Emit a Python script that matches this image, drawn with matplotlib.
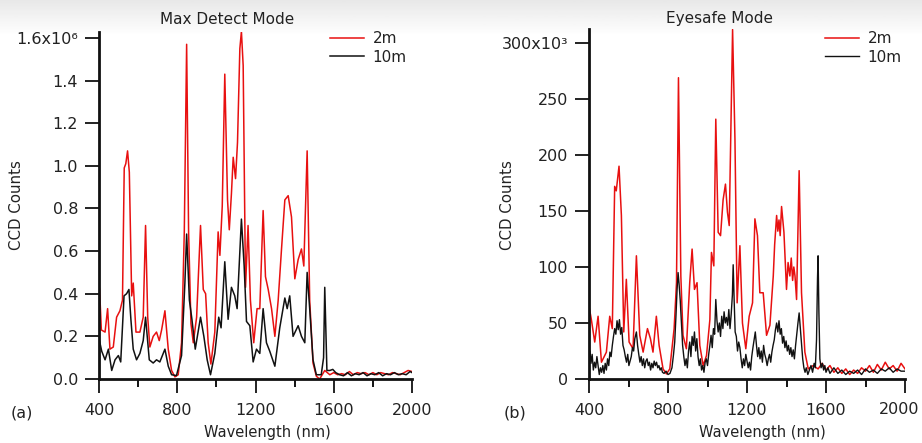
import numpy as np
import matplotlib
matplotlib.use("Agg")
import matplotlib.pyplot as plt
from matplotlib.ticker import MultipleLocator

plt.rcParams['font.family'] = ['DejaVu Sans']

# ---- Max Detect Mode (counts in units of 1e6) ----
max_wl_2m = [400, 403, 412, 431, 444, 456, 473, 490, 507, 520, 529, 537, 546, 555, 567, 575,
             589, 609, 626, 638, 649, 660, 677, 694, 708, 720, 737, 754, 771, 788, 805, 822,
             836, 848, 858, 870, 882, 899, 919, 933, 945, 958, 972, 992, 1009, 1018, 1030, 1043,
             1057, 1066, 1077, 1086, 1098, 1108, 1120, 1128, 1137, 1149, 1162, 1174, 1191, 1208,
             1222, 1239, 1251, 1265, 1282, 1299, 1316, 1333, 1350, 1367, 1384, 1401, 1418, 1435,
             1447, 1464, 1477, 1494, 1511, 1528, 1554, 1580, 1600, 1620, 1640, 1660, 1680, 1700,
             1720, 1740, 1760, 1780, 1800, 1820, 1840, 1860, 1880, 1900, 1920, 1940, 1960, 1980, 2000]
max_ct_2m = [.44, .42, .23, .22, .33, .14, .15, .29, .32, .37, .99, 1.01, 1.07, .97, .39, .45,
             .22, .22, .29, .72, .29, .15, .20, .22, .18, .23, .32, .14, .04, .01, .02, .17,
             .69, 1.57, .69, .26, .17, .29, .72, .42, .40, .17, .07, .22, .69, .58, .81, 1.43,
             .84, .70, .87, 1.04, .94, 1.11, 1.55, 1.63, 1.47, .43, .72, .37, .17, .33,
             .33, .79, .48, .42, .33, .20, .37, .61, .84, .86, .76, .47, .56, .61,
             .53, 1.07, .37, .075, .013, .0, .04, .02, .03, .02, .025, .02, .035, .02,
             .03, .025, .03, .02, .03, .02, .03, .025, .02, .03, .025, .02, .03, .04, .035]

max_wl_10m = [400, 414, 431, 448, 465, 482, 499, 511, 528, 541, 553, 563, 575, 592, 609, 626,
              638, 657, 677, 694, 711, 737, 754, 771, 796, 822, 839, 848, 862, 875, 892, 919,
              936, 953, 970, 992, 1012, 1024, 1043, 1060, 1077, 1094, 1106, 1128, 1142, 1154,
              1171, 1188, 1205, 1222, 1239, 1256, 1273, 1299, 1324, 1350, 1362, 1375, 1392, 1418,
              1435, 1452, 1464, 1477, 1494, 1511, 1536, 1548, 1554, 1565, 1580, 1595, 1610, 1630,
              1650, 1670, 1690, 1710, 1730, 1750, 1770, 1790, 1810, 1830, 1850, 1870, 1890, 1910,
              1930, 1950, 1970, 1990, 2000]
max_ct_10m = [.19, .13, .09, .14, .04, .09, .11, .08, .39, .40, .42, .28, .14, .09, .12, .18,
              .29, .09, .075, .09, .08, .14, .06, .02, .016, .11, .45, .68, .37, .28, .14, .29,
              .20, .09, .02, .12, .29, .24, .55, .28, .43, .39, .33, .75, .53, .27,
              .25, .08, .14, .12, .33, .17, .13, .06, .24, .38, .33, .39, .20, .25,
              .20, .17, .50, .33, .09, .02, .02, .10, .43, .04, .04, .045, .03, .02,
              .015, .03, .015, .025, .02, .03, .015, .025, .02, .03, .015, .025, .02, .03,
              .02, .025, .02, .035, .03]

# ---- Eyesafe Mode (counts in units of 1e3) ----
eye_wl_2m = [400, 412, 429, 446, 463, 488, 505, 518, 530, 538, 552, 564, 576, 589, 603, 623,
             640, 657, 674, 696, 711, 724, 741, 755, 775, 792, 809, 831, 843, 853, 865, 876,
             893, 910, 922, 934, 947, 961, 978, 995, 1012, 1020, 1032, 1042, 1054, 1066, 1079,
             1091, 1101, 1110, 1127, 1139, 1150, 1164, 1177, 1194, 1211, 1228, 1240, 1253, 1265,
             1282, 1299, 1316, 1333, 1340, 1350, 1356, 1362, 1368, 1375, 1387, 1400, 1408, 1417,
             1424, 1431, 1437, 1443, 1451, 1464,
             1476, 1493, 1510, 1535, 1560, 1580, 1600, 1620, 1640, 1660, 1680, 1700, 1720, 1740,
             1760, 1780, 1800, 1820, 1840, 1860, 1880, 1900, 1920, 1940, 1960, 1980, 2000]
eye_ct_2m = [65, 53, 33, 56, 15, 24, 56, 45, 172, 168, 190, 146, 42, 89, 33, 27,
             110, 39, 24, 45, 36, 24, 56, 30, 9, 4.5, 9, 45, 86, 269, 92, 39,
             27, 86, 116, 80, 86, 30, 12, 21, 53, 113, 101, 232, 131, 128, 160,
             174, 149, 137, 312, 214, 68, 119, 50, 27, 56, 68, 143, 128, 77,
             77, 39, 48, 92, 120, 146, 132, 142, 128, 154, 131, 80, 104, 92,
             108, 88, 100, 92, 71, 186,
             77, 24, 9, 12, 9, 14, 8, 12, 6, 10, 5, 9, 4, 8,
             5, 10, 7, 12, 6, 13, 8, 15, 9, 12, 7, 14, 9]

eye_wl_10m = [400, 405, 410, 416, 422, 428, 434, 440, 446, 452, 458, 464, 470, 476, 482, 488,
              494, 500, 506, 512, 518, 524, 530, 536, 542, 548, 554, 560, 566, 572, 578, 584,
              590, 596, 602, 608, 614, 620, 626, 632, 640, 646, 652, 658, 664, 670, 676, 682,
              688, 694, 700, 706, 712, 718, 724, 730, 736, 742, 748, 754, 760, 766, 772, 780,
              790, 800, 810, 820, 828, 834, 840, 846, 851, 856, 862, 868, 874, 880, 886, 892,
              898, 904, 910, 916, 922, 928, 934, 940, 946, 952, 958, 964, 970, 976, 982, 988,
              994, 1000, 1006, 1012, 1018, 1024, 1030, 1036, 1042, 1048, 1054, 1060, 1066, 1072,
              1078, 1084, 1090, 1096, 1102, 1108, 1114, 1120, 1126, 1130, 1135, 1140, 1146, 1152,
              1158, 1164, 1170, 1176, 1182, 1188, 1194, 1200, 1206, 1212, 1218, 1224, 1230, 1236,
              1242, 1248, 1254, 1260, 1266, 1272, 1278, 1284, 1290, 1296, 1302, 1308, 1314, 1320,
              1326, 1332, 1338, 1344, 1350, 1356, 1362, 1368, 1374, 1380, 1386, 1392, 1398, 1404,
              1410, 1416, 1422, 1428, 1434, 1440, 1446, 1452, 1458, 1464, 1470, 1476, 1482, 1488,
              1494, 1500, 1508, 1516, 1524, 1532, 1540, 1546, 1552, 1557, 1560, 1564, 1569, 1575,
              1582, 1588, 1594, 1600, 1610, 1620, 1640, 1660, 1680, 1700, 1720, 1740, 1760, 1780,
              1800, 1820, 1840, 1860, 1880, 1900, 1920, 1940, 1960, 1980, 2000]
eye_ct_10m = [18, 25, 14, 22, 8, 15, 10, 20, 12, 4, 10, 6, 12, 5, 14, 8,
              18, 12, 24, 20, 30, 38, 45, 40, 52, 44, 53, 40, 46, 30, 26, 20,
              15, 22, 12, 16, 20, 28, 25, 36, 42, 30, 22, 15, 20, 12, 18, 10,
              16, 18, 12, 15, 8, 14, 10, 16, 12, 15, 10, 12, 8, 10, 6, 5,
              7, 4, 5, 10, 22, 33, 55, 80, 95, 85, 70, 50, 30, 20, 12, 18,
              10, 25, 33, 20, 38, 30, 42, 25, 36, 20, 12, 18, 8, 12, 6, 15,
              18, 12, 22, 30, 39, 28, 45, 40, 71, 52, 42, 50, 38, 56,
              45, 60, 50, 55, 48, 62, 45, 58, 75, 102, 70, 42, 38, 25,
              33, 28, 18, 10, 18, 12, 22, 16, 10, 15, 8, 20, 28, 35,
              42, 30, 20, 28, 18, 25, 15, 30, 22, 18, 12, 18, 22, 15,
              24, 30, 35, 44, 50, 42, 52, 40, 45, 32, 38, 28, 34, 25,
              30, 22, 28, 20, 26, 18, 30, 40, 50, 59, 45, 30, 18, 10,
              6, 10, 4, 8, 12, 6, 14, 10, 35, 90, 110, 60, 18, 10,
              14, 8, 12, 6, 10, 5, 10, 5, 8, 4, 7, 5, 8, 4,
              9, 6, 8, 5, 9, 7, 10, 6, 9, 7, 7]

x_ticks = [400, 800, 1200, 1600, 2000]

RED = "#e81010"
BLACK = "#111111"
TXT = "#222222"

W, H = 922, 443
fig = plt.figure(figsize=(W / 100, H / 100), dpi=100)

# light gray band fading into white at the very top
band = fig.add_axes([0, 1 - 36 / H, 1, 36 / H], zorder=-5)
grad = np.linspace(0.91, 1.0, 50).reshape(-1, 1)
band.imshow(grad, cmap="gray", vmin=0, vmax=1, aspect="auto", extent=[0, 1, 0, 1])
band.axis("off")


def style_axes(ax, ytop, ystep):
    ax.set_xlim(400, 2000)
    ax.set_ylim(0, ytop)
    for sp in ["top", "right"]:
        ax.spines[sp].set_visible(False)
    for sp in ["left", "bottom"]:
        ax.spines[sp].set_linewidth(2.0)
        ax.spines[sp].set_color(BLACK)
    ax.patch.set_alpha(0)
    ax.xaxis.set_minor_locator(MultipleLocator(200))
    ax.yaxis.set_major_locator(MultipleLocator(ystep))
    ax.tick_params(axis="x", which="major", length=10, width=1.3, pad=7,
                   labelsize=11.5, colors=BLACK, labelcolor=TXT)
    ax.tick_params(axis="x", which="minor", length=6, width=1.3)
    ax.tick_params(axis="y", which="major", length=10, width=1.3, pad=5,
                   labelsize=11.5, colors=BLACK, labelcolor=TXT)
    return ax


# ---- (a) Max Detect Mode ----
ax1 = fig.add_axes([99 / W, 1 - 379 / H, 313 / W, 347.5 / H])
style_axes(ax1, 1.63, 0.2)
ax1.set_xticks(x_ticks, [str(v) for v in x_ticks])
ax1.plot(max_wl_2m, max_ct_2m, color=RED, lw=1.1, label="2m")
ax1.plot(max_wl_10m, max_ct_10m, color=BLACK, lw=1.1, label="10m")
yt = np.arange(0, 1.61, 0.2)
ax1.set_yticks(yt)
ax1.set_yticklabels([f"{v:.1f}" for v in yt[:-1]] + ["1.6x10⁶"])

# ---- (b) Eyesafe Mode ----
ax2 = fig.add_axes([589 / W, 1 - 379 / H, 316 / W, 350 / H])
style_axes(ax2, 312.5, 50)
# last label drawn separately so it stays inside the canvas
ax2.set_xticks(x_ticks, [str(v) for v in x_ticks[:-1]] + [""])
ax2.plot(eye_wl_2m, eye_ct_2m, color=RED, lw=1.1, label="2m")
ax2.plot(eye_wl_10m, eye_ct_10m, color=BLACK, lw=1.0, label="10m")
yt2 = np.arange(0, 301, 50)
ax2.set_yticks(yt2)
ax2.set_yticklabels([f"{v:d}" for v in yt2[:-1]] + ["300x10³"])
fig.text(899 / W, 1 - 410 / H, str(x_ticks[-1]), ha="center", va="center", fontsize=11.5, color=TXT)

for ax, lx in [(ax1, 330), (ax2, 825)]:
    ax.legend(loc="upper left", bbox_to_anchor=(lx / W, 1 - 31 / H),
              bbox_transform=fig.transFigure, frameon=False, fontsize=11,
              handlelength=2.2, handletextpad=0.6, labelspacing=0.25,
              borderpad=0, borderaxespad=0, labelcolor=TXT)

# titles, axis labels and panel letters
fig.text(227 / W, 1 - 19 / H, "Max Detect Mode", ha="center", va="center", fontsize=11, color=TXT)
fig.text(719 / W, 1 - 19 / H, "Eyesafe Mode", ha="center", va="center", fontsize=11, color=TXT)
fig.text(17 / W, 1 - 205 / H, "CCD Counts", rotation=90, ha="center", va="center", fontsize=10.8, color=TXT)
fig.text(508 / W, 1 - 205 / H, "CCD Counts", rotation=90, ha="center", va="center", fontsize=10.8, color=TXT)
fig.text(267 / W, 1 - 432 / H, "Wavelength (nm)", ha="center", va="center", fontsize=10.5, color=TXT)
fig.text(762 / W, 1 - 432 / H, "Wavelength (nm)", ha="center", va="center", fontsize=10.5, color=TXT)
fig.text(22 / W, 1 - 413 / H, "(a)", ha="center", va="center", fontsize=11.5, color=TXT)
fig.text(515 / W, 1 - 413 / H, "(b)", ha="center", va="center", fontsize=11.5, color=TXT)

fig.savefig("out.png", dpi=100)
